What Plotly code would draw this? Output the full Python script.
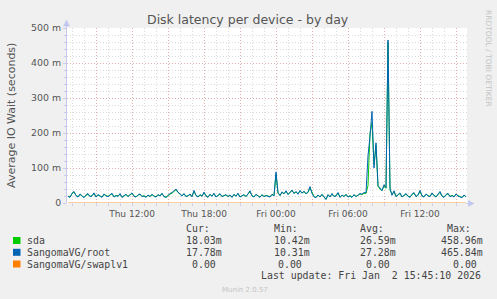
import pandas as pd
import plotly.graph_objects as go

# ---------------- data (milliseconds, 10-minute samples from Thu 06:40) ----------------
start_time = "2026-01-01 06:40"
n_points = 200

sda = [
    20,17,26,31,22,18,24,20,16,22,25,19,21,27,18,23,20,17,24,21,
    19,23,26,18,22,20,25,17,21,24,19,23,27,20,18,22,25,19,21,17,
    22,19,24,20,18,23,21,26,19,17,22,25,28,34,38,30,24,21,26,19,
    21,24,19,33,22,18,23,20,29,21,17,24,20,26,18,22,25,19,21,23,
    19,22,17,24,20,26,18,21,23,19,25,32,21,18,24,20,17,23,19,22,
    20,18,24,21,82,28,22,30,27,33,25,29,35,28,31,26,34,29,32,27,
    30,43,28,19,16,22,18,24,17,10.42,23,18,26,19,21,28,17,22,19,24,
    18,21,17,23,19,22,26,24,28,27,50,200,230,110,165,48,40,36,48,42,
    458.96,38,24,32,19,23,27,18,22,25,20,17,24,28,19,22,33,21,18,25,
    21,19,27,22,18,24,30,20,17,23,26,19,22,18,25,21,19,16,22,18.03,
]
root = [
    19,16,28,33,21,17,26,19,15,23,27,18,20,29,17,24,19,16,26,20,
    18,24,28,17,21,19,27,16,22,25,18,24,29,19,17,23,26,18,20,16,
    23,18,25,19,17,24,20,28,18,16,23,27,30,36,40,31,25,20,27,18,
    20,26,18,36,21,17,24,19,31,20,16,25,19,28,17,23,27,18,20,24,
    18,23,16,25,19,28,17,20,24,18,27,35,20,17,25,19,16,24,18,21,
    19,17,25,20,89,30,21,32,26,35,24,31,37,27,33,25,36,28,34,26,
    32,47,27,18,15,23,17,25,16,10.31,24,17,27,18,20,30,16,23,18,25,
    17,20,16,24,18,23,27,25,30,29,135,190,262,100,172,50,42,35,52,44,
    465.84,42,22,35,18,24,29,17,21,27,19,16,25,30,18,23,36,20,17,26,
    20,18,29,21,17,25,33,19,16,24,28,18,21,17,26,20,18,15,23,17.78,
]
swap = [0] * n_points

series_names = ["sda", "SangomaVG/root", "SangomaVG/swaplv1"]
series_colors = ["#00CC00", "#0066B3", "#FF8000"]

y_tick_values = [0, 100, 200, 300, 400, 500]
y_tick_labels = ["0", "100 m", "200 m", "300 m", "400 m", "500 m"]

x_tick_values = ["2026-01-01 09:00", "2026-01-01 12:00", "2026-01-01 15:00", "2026-01-01 18:00",
                 "2026-01-01 21:00", "2026-01-02 00:00", "2026-01-02 03:00", "2026-01-02 06:00",
                 "2026-01-02 09:00", "2026-01-02 12:00", "2026-01-02 15:00"]
x_tick_labels = ["", "Thu 12:00", "", "Thu 18:00", "", "Fri 00:00", "", "Fri 06:00", "", "Fri 12:00", ""]

legend_headers = ["Cur:", "Min:", "Avg:", "Max:"]
legend_values = [
    ["18.03m", "10.42m", "26.59m", "458.96m"],
    ["17.78m", "10.31m", "27.28m", "465.84m"],
    ["0.00", "0.00", "0.00", "0.00"],
]
title_text = "Disk latency per device - by day"
y_title = "Average IO Wait (seconds)"
last_update = "Last update: Fri Jan \u00a02 15:45:10 2026"
footer = "Munin 2.0.57"
side_text = "RRDTOOL / TOBI OETIKER"

# ---------------- figure ----------------
W, H = 497, 299
L, R, T, B = 67, 30, 28, 96
PW, PH = W - L - R, H - T - B

def px(x):
    return (x - L) / PW

def py(y):
    return (H - B - y) / PH

times = pd.date_range(start_time, periods=n_points, freq="10min")

fig = go.Figure()
for vals, name, col, op in zip([sda, root, swap], series_names, series_colors, [1, 1, 0.75]):
    fig.add_trace(go.Scatter(x=times, y=vals, mode="lines", name=name, opacity=op,
                             line=dict(color=col, width=1), hoverinfo="skip"))

TXT = "#555555"
SANS = "DejaVu Sans"
MONO = "DejaVu Sans Mono"
AXC = "#C8C8F0"
MAJ = "rgba(240,130,130,0.5)"
MIN = "rgba(175,175,175,0.45)"
DASH = "1px,2px"

fig.update_layout(
    width=W, height=H,
    margin=dict(l=L, r=R, t=T, b=B),
    paper_bgcolor="#F0F0F0", plot_bgcolor="#FFFFFF",
    showlegend=False,
    font=dict(family=SANS, color=TXT),
    xaxis=dict(
        type="date",
        range=["2026-01-01 06:35", "2026-01-02 15:55"],
        tickmode="array", tickvals=x_tick_values, ticktext=x_tick_labels,
        tickfont=dict(size=9, color=TXT),
        showgrid=True, gridcolor=MAJ, griddash=DASH, gridwidth=1,
        ticks="outside", ticklen=2, tickcolor=AXC,
        minor=dict(dtick=3600000, tick0="2026-01-01 00:00", showgrid=True,
                   gridcolor=MIN, griddash=DASH, gridwidth=1,
                   ticks="outside", ticklen=2, tickcolor=AXC),
        zeroline=False, showline=False, fixedrange=True,
    ),
    yaxis=dict(
        range=[0, 500],
        tickmode="array", tickvals=y_tick_values, ticktext=y_tick_labels,
        tickfont=dict(size=9.4, color=TXT),
        showgrid=True, gridcolor=MAJ, griddash=DASH, gridwidth=1,
        ticks="outside", ticklen=3, tickcolor=AXC,
        minor=dict(dtick=20, tick0=0, showgrid=True,
                   gridcolor=MIN, griddash=DASH, gridwidth=1,
                   ticks="outside", ticklen=2, tickcolor=AXC),
        zeroline=False, showline=False, fixedrange=True,
    ),
)

shapes = []
# axis lines
shapes.append(dict(type="line", xref="paper", yref="paper", x0=px(66.5), x1=px(66.5),
                   y0=py(203), y1=py(22), line=dict(color=AXC, width=1)))
shapes.append(dict(type="line", xref="paper", yref="paper", x0=px(466), x1=px(470),
                   y0=py(203.5), y1=py(203.5), line=dict(color=AXC, width=1)))
# arrows
def tri(pts):
    d = "M " + " L ".join(f"{px(a):.5f},{py(b):.5f}" for a, b in pts) + " Z"
    return dict(type="path", xref="paper", yref="paper", path=d,
                fillcolor="#C0C8F0", line=dict(color="#C0C8F0", width=0.5))
shapes.append(tri([(63.5, 26), (69.5, 26), (66.5, 20)]))
shapes.append(tri([(468.5, 200.5), (468.5, 206.5), (474, 203.5)]))
# legend swatches
sw_y = [240.5, 252.3, 264.0]
for yc, col in zip(sw_y, series_colors):
    shapes.append(dict(type="rect", xref="paper", yref="paper",
                       x0=px(13), x1=px(20.5), y0=py(yc - 3.5), y1=py(yc + 3.5),
                       fillcolor=col, line=dict(width=0)))
fig.update_layout(shapes=shapes)

ann = []
def add_text(text, x, y, size, color=TXT, family=SANS, xanchor="left", angle=0):
    ann.append(dict(text=text, x=px(x), y=py(y), xref="paper", yref="paper",
                    xanchor=xanchor, yanchor="middle", showarrow=False, textangle=angle,
                    font=dict(size=size, color=color, family=family)))

add_text(title_text, 248, 19, 12.5, xanchor="center")
add_text(y_title, 11, 115, 11, xanchor="center", angle=-90)
add_text(side_text, 488, 58, 7.5, color="#C4C4C4", xanchor="center", angle=90)

header_x = [185, 273, 359, 446]
for h, x in zip(legend_headers, header_x):
    add_text(h, x - 1, 228.5, 9.9, color="#444444", family=MONO)

row_y = [240.5, 252.3, 264.0]
label_x = 26
value_x = [[185, 273, 359, 440], [185, 273, 359, 440], [191, 277, 365, 452]]
for r, (name, vals) in enumerate(zip(series_names, legend_values)):
    add_text(name, label_x - 1, row_y[r], 9.9, color="#444444", family=MONO)
    for v, x in zip(vals, value_x[r]):
        add_text(v, x - 1, row_y[r], 9.9, color="#444444", family=MONO)

add_text(last_update, 483, 275.5, 9.9, color="#444444", family=MONO, xanchor="right")
add_text(footer, 245, 290, 7, color="#C4C4C4", xanchor="center")

fig.update_layout(annotations=ann)
fig.write_html("out.html")
